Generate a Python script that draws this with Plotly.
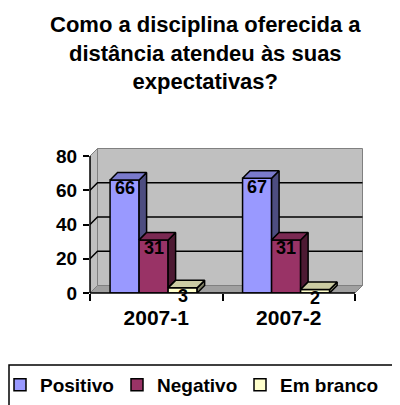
import plotly.graph_objects as go

# ---- data ----
categories = ["2007-1", "2007-2"]
series_names = ["Positivo", "Negativo", "Em branco"]
positivo = [66, 67]
negativo = [31, 31]
em_branco = [3, 2]
y_ticks = [0, 20, 40, 60, 80]
title_text = "Como a disciplina oferecida a<br>distância atendeu às suas<br>expectativas?"

# ---- styles ----
values = [positivo, negativo, em_branco]
front_colors = ["#9999FF", "#993366", "#FFFFCC"]
top_colors = ["#7A7ACC", "#7A2952", "#CCCCA3"]
side_colors = ["#4D4D80", "#4D1A33", "#808066"]
legend_left_px = [0, 117, 240]          # page px of each legend entry
FONT = "Liberation Sans"

# page has an 8px body margin: work in page pixels, convert to figure pixels
OFF = 8
W, H = 400 - OFF, 405 - OFF
plot_left, plot_right, plot_top, plot_bottom = 90, 365, 146, 293   # page px
L, R = plot_left - OFF, W - (plot_right - OFF)
T, B = plot_top - OFF, H - (plot_bottom - OFF)
pw, ph = W - L - R, H - T - B
n = len(categories)
xmin, xmax = -0.5, n - 0.5
kx = (pw - 10) / (xmax - xmin)          # px per x unit
ymax = y_ticks[-1]
ky = (ph - 10) / ymax                   # px per y unit
x_range = [xmin, xmin + pw / kx]
y_range = [0, ph / ky]
depth = 7.5
ddx, ddy = depth / kx, depth / ky
bw = 0.219
gc = -0.02


def px_x(page_px):
    return (page_px - plot_left) / pw


def px_y(page_py):
    return (plot_bottom - page_py) / ph


fig = go.Figure()
offsets = [gc - 1.5 * bw + k * bw for k in range(len(series_names))]
legend_ids = ["legend", "legend2", "legend3"]

for k, name in enumerate(series_names):
    fig.add_trace(go.Bar(
        x=list(range(n)), y=values[k], width=bw, offset=offsets[k], name=name,
        legend=legend_ids[k],
        marker=dict(color=front_colors[k], line=dict(color="black", width=1.5)),
        hoverinfo="skip"))

for k in range(len(series_names)):
    tx, ty, sx, sy = [], [], [], []
    for i in range(n):
        h = values[k][i]
        xl = i + offsets[k]
        xr = xl + bw
        tx += [xl, xr, xr + ddx, xl + ddx, xl, None]
        ty += [h, h, h + ddy, h + ddy, h, None]
        hn = values[k + 1][i] if k + 1 < len(series_names) else 0
        if hn < h:
            sx += [xr, xr + ddx, xr + ddx, xr, xr, None]
            sy += [hn, hn + ddy, h + ddy, h, hn, None]
    fig.add_trace(go.Scatter(x=sx, y=sy, mode="lines", fill="toself",
                             fillcolor=side_colors[k], line=dict(color="black", width=1.5),
                             showlegend=False, hoverinfo="skip"))
    fig.add_trace(go.Scatter(x=tx, y=ty, mode="lines", fill="toself",
                             fillcolor=top_colors[k], line=dict(color="black", width=1.5),
                             showlegend=False, hoverinfo="skip"))

# value labels
annotations = []
for k in range(len(series_names)):
    for i in range(n):
        annotations.append(dict(
            x=i + offsets[k] + bw / 2, y=values[k][i], xref="x", yref="y",
            text=str(values[k][i]), showarrow=False, yanchor="middle", yshift=-8.5,
            font=dict(family=FONT, size=18, color="black", weight="bold")))

# title
annotations.append(dict(
    x=px_x(205), y=px_y(10), xref="paper", yref="paper",
    text=title_text, showarrow=False, xanchor="center", yanchor="top", align="center",
    font=dict(family=FONT, size=22, color="black", weight="bold")))

shapes = []
# back wall
shapes.append(dict(type="rect", xref="x", yref="y", layer="below",
                   x0=xmin + ddx, x1=xmax + ddx, y0=ddy, y1=ymax + ddy,
                   fillcolor="#C0C0C0", line=dict(color="#808080", width=1)))
# side wall
shapes.append(dict(type="path", xref="x", yref="y", layer="below",
                   path=f"M{xmin},0 L{xmin+ddx},{ddy} L{xmin+ddx},{ymax+ddy} L{xmin},{ymax} Z",
                   fillcolor="#C0C0C0", line=dict(color="#808080", width=1)))
# floor
shapes.append(dict(type="path", xref="x", yref="y", layer="below",
                   path=f"M{xmin},0 L{xmax},0 L{xmax+ddx},{ddy} L{xmin+ddx},{ddy} Z",
                   fillcolor="#A0A0A0", line=dict(color="#808080", width=1)))
# gridlines
for v in y_ticks[1:-1]:
    shapes.append(dict(type="path", xref="x", yref="y", layer="below",
                       path=f"M{xmin},{v} L{xmin+ddx},{v+ddy} L{xmax+ddx},{v+ddy}",
                       line=dict(color="black", width=1.5)))
# front axis lines
shapes.append(dict(type="line", xref="x", yref="paper", x0=xmin, x1=xmax, y0=0, y1=0,
                   line=dict(color="black", width=1.5)))
shapes.append(dict(type="line", xref="paper", yref="y", x0=0, x1=0, y0=0, y1=ymax,
                   line=dict(color="black", width=1.5)))
# legend box
shapes.append(dict(type="rect", xref="paper", yref="paper",
                   x0=px_x(9), x1=px_x(397),
                   y0=px_y(365), y1=px_y(430),
                   line=dict(color="black", width=1.5)))

legend_style = dict(orientation="h", xanchor="left", yanchor="top", y=px_y(366),
                    bgcolor="rgba(0,0,0,0)", borderwidth=0,
                    font=dict(family=FONT, size=19, color="black", weight="bold"))

fig.update_layout(
    width=W, height=H,
    margin=dict(l=L, r=R, t=T, b=B, autoexpand=False),
    paper_bgcolor="white", plot_bgcolor="white",
    barmode="overlay",
    xaxis=dict(range=x_range, tickvals=list(range(n)), ticktext=categories,
               ticks="", showgrid=False, zeroline=False, showline=False,
               ticklabelstandoff=10,
               tickfont=dict(family=FONT, size=21, color="black", weight="bold"),
               minor=dict(tickvals=[i - 0.5 for i in range(n + 1)], ticks="outside",
                          ticklen=7, tickwidth=1.5, tickcolor="black", showgrid=False)),
    yaxis=dict(range=y_range, tickvals=y_ticks, ticks="outside", ticklen=6,
               tickwidth=1.5, tickcolor="black", showgrid=False, zeroline=False,
               showline=False, ticklabelstandoff=2,
               tickfont=dict(family=FONT, size=19, color="black", weight="bold")),
    legend=dict(x=px_x(legend_left_px[0]), **legend_style),
    legend2=dict(x=px_x(legend_left_px[1]), **legend_style),
    legend3=dict(x=px_x(legend_left_px[2]), **legend_style),
    annotations=annotations,
    shapes=shapes,
    showlegend=True,
)

fig.write_html("out.html")
